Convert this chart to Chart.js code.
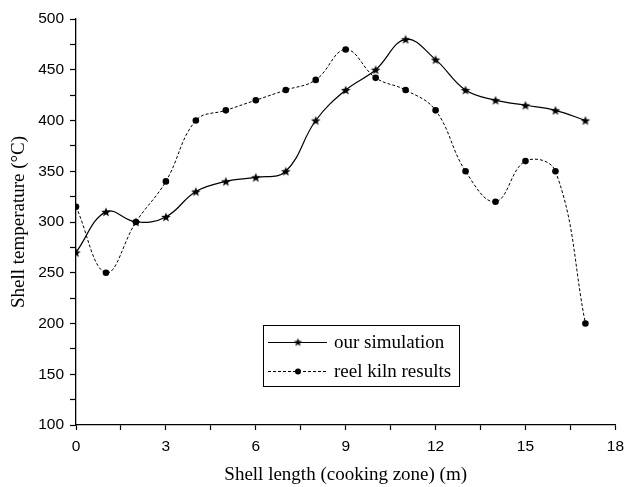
<!DOCTYPE html>
<html>
<head>
<meta charset="utf-8">
<script src="https://cdn.jsdelivr.net/npm/chart.js@4"></script>
<style>
  html, body { margin: 0; padding: 0; background: #fff; }
  #wrap { width: 631px; height: 487px; position: relative; }
</style>
</head>
<body>
<div id="wrap"><canvas id="shellChart"></canvas></div>
<script>
// ---- DATA ----
const shellLength = [0, 1, 2, 3, 4, 5, 6, 7, 8, 9, 10, 11, 12, 13, 14, 15, 16, 17];
const simulation = [270, 310, 300, 305, 330, 340, 344, 350, 400, 430, 450, 480, 460, 430, 420, 415, 410, 400];
const kilnResults = [315, 250, 300, 340, 400, 410, 420, 430, 440, 470, 442, 430, 410, 350, 320, 360, 350, 200];
const seriesNames = ['our simulation', 'reel kiln results'];
const xTitle = 'Shell length (cooking zone) (m)';
const yTitle = 'Shell temperature (\u00B0C)';

// ---- MARKERS ----
function makeStar(r) {
  const c = document.createElement('canvas');
  const s = Math.ceil(r * 2 + 2);
  c.width = s; c.height = s;
  const g = c.getContext('2d');
  const cx = s / 2, cy = s / 2 + 0.5;
  g.beginPath();
  for (let i = 0; i < 10; i++) {
    const rad = i % 2 === 0 ? r : r * 0.42;
    const a = -Math.PI / 2 + i * Math.PI / 5;
    const px = cx + rad * Math.cos(a), py = cy + rad * Math.sin(a);
    if (i === 0) g.moveTo(px, py); else g.lineTo(px, py);
  }
  g.closePath();
  g.fillStyle = '#000';
  g.fill();
  return c;
}
const starImg = makeStar(5);
const legendStar = makeStar(4.4);

const serif = "'Liberation Serif', 'Times New Roman', serif";
const sans = "'Liberation Sans', Arial, sans-serif";

// ---- LEGEND (boxed, line + marker) ----
const boxLegend = {
  id: 'boxLegend',
  afterDatasetsDraw(chart) {
    const ctx = chart.ctx;
    const left = chart.chartArea.left + 187;
    const top = 325;
    const w = 196, h = 61;
    ctx.save();
    ctx.fillStyle = '#fff';
    ctx.fillRect(left, top, w, h);
    ctx.strokeStyle = '#000';
    ctx.lineWidth = 1;
    ctx.strokeRect(left + 0.5, top + 0.5, w, h);

    const rows = [top + 17, top + 46];
    rows.forEach((y, i) => {
      ctx.beginPath();
      ctx.setLineDash(i === 0 ? [] : [3, 2]);
      ctx.lineWidth = 1;
      ctx.moveTo(left + 5, y + 0.5);
      ctx.lineTo(left + 64, y + 0.5);
      ctx.stroke();
      ctx.setLineDash([]);
      if (i === 0) {
        ctx.drawImage(legendStar, left + 35 - legendStar.width / 2, y - legendStar.height / 2);
      } else {
        ctx.beginPath();
        ctx.arc(left + 35, y + 0.5, 3, 0, Math.PI * 2);
        ctx.fillStyle = '#000';
        ctx.fill();
      }
      ctx.fillStyle = '#000';
      ctx.font = '19px ' + serif;
      ctx.textBaseline = 'middle';
      ctx.fillText(seriesNames[i], left + 71, y + 1);
    });
    ctx.restore();
  }
};

// ---- CHART ----
new Chart(document.getElementById('shellChart'), {
  type: 'line',
  data: {
    datasets: [
      {
        label: seriesNames[0],
        data: shellLength.map((x, i) => ({ x, y: simulation[i] })),
        borderColor: '#000',
        borderWidth: 1.2,
        tension: 0.4,
        pointStyle: starImg,
        pointRadius: 4,
        fill: false,
      },
      {
        label: seriesNames[1],
        data: shellLength.map((x, i) => ({ x, y: kilnResults[i] })),
        borderColor: '#000',
        borderWidth: 1,
        borderDash: [3, 2],
        tension: 0.4,
        pointStyle: 'circle',
        pointRadius: 3.3,
        pointBackgroundColor: '#000',
        pointBorderWidth: 0,
        fill: false,
      },
    ],
  },
  options: {
    responsive: true,
    maintainAspectRatio: false,
    animation: false,
    layout: { padding: { top: 19, right: 10, left: 0, bottom: 0 } },
    plugins: {
      legend: { display: false },
      tooltip: { enabled: false },
    },
    scales: {
      x: {
        type: 'linear',
        min: 0,
        max: 18,
        afterFit: s => { s.height = 62; },
        border: { display: true, color: '#000', width: 1.3 },
        grid: { drawOnChartArea: false, drawTicks: true, tickLength: 5, color: '#000', tickWidth: 1.2 },
        ticks: {
          stepSize: 1.5,
          autoSkip: false,
          maxRotation: 0,
          padding: 7,
          color: '#000',
          font: { family: sans, size: 15.5 },
          callback: v => (v % 3 === 0 ? v : ''),
        },
        title: {
          display: true,
          text: xTitle,
          color: '#000',
          font: { family: serif, size: 19 },
          padding: { top: 0, bottom: 1 },
        },
      },
      y: {
        min: 100,
        max: 500,
        afterFit: s => { s.width = 76; },
        border: { display: true, color: '#000', width: 1.3 },
        grid: { drawOnChartArea: false, drawTicks: true, tickLength: 6, color: '#000', tickWidth: 1.2 },
        ticks: {
          stepSize: 25,
          autoSkip: false,
          padding: 6,
          color: '#000',
          font: { family: sans, size: 15.5 },
          callback: v => (v % 50 === 0 ? v : ''),
        },
        title: {
          display: true,
          text: yTitle,
          color: '#000',
          font: { family: serif, size: 19 },
          padding: { top: 8, bottom: 0 },
        },
      },
    },
  },
  plugins: [boxLegend],
});
</script>
</body>
</html>
